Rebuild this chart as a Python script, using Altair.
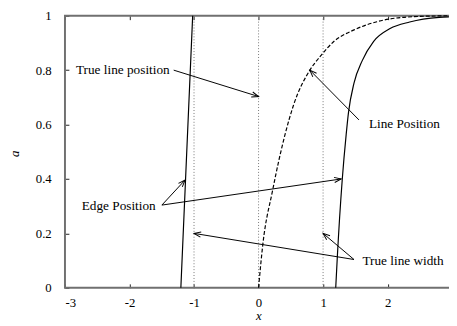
import math
import altair as alt
import pandas as pd

# ---- data ----
left_x = [-1.204, -1.131, -1.021]
left_y = [0.0, 0.4, 1.0]

dash_x = [0.0, 0.065, 0.217, 0.411, 0.54, 0.795, 0.947, 1.175, 1.48, 1.835, 2.29, 2.95]
dash_y = [0.0, 0.157, 0.357, 0.564, 0.67, 0.80, 0.848, 0.907, 0.948, 0.978, 0.995, 1.0]

right_x = [1.196, 1.221, 1.297, 1.358, 1.394, 1.479, 1.607, 1.784, 2.038, 2.342, 2.80, 2.95]
right_y = [0.0, 0.115, 0.398, 0.564, 0.645, 0.752, 0.835, 0.906, 0.953, 0.977, 0.994, 0.996]

true_pos = [-1.0, 0.0, 1.0]

label_text = ["True line position", "Line Position", "Edge Position", "True line width"]
label_x = [-2.83, 1.71, -2.74, 1.61]
label_y = [0.80, 0.60, 0.30, 0.10]

arrow_x0 = [-1.315, 1.556, -1.498, -1.498, 1.479, 1.479]
arrow_y0 = [0.800, 0.617, 0.304, 0.304, 0.104, 0.104]
arrow_x1 = [0.0, 0.795, -1.139, 1.28, 1.0, -1.0]
arrow_y1 = [0.703, 0.80, 0.396, 0.40, 0.20, 0.20]

x_ticks = [-3, -2, -1, 0, 1, 2]
y_ticks = [0, 0.2, 0.4, 0.6, 0.8, 1]
frame_x = [-3, 3]
frame_y = [0, 1]

# ---- layout ----
W, H = 391, 277
PX = 65.7
XMAX = -3 + W / PX
PY = H
FONT = "Liberation Serif, Times New Roman, serif"

X = alt.Scale(domain=[-3, XMAX], nice=False, zero=False)
Y = alt.Scale(domain=[0, 1], nice=False, zero=False)

def ang(x0, y0, x1, y1):
    dx = (x1 - x0) * PX
    dys = -(y1 - y0) * PY
    return math.degrees(math.atan2(dx, -dys)) % 360

curves_left = pd.DataFrame({"x": left_x, "y": left_y})
curves_dash = pd.DataFrame({"x": dash_x, "y": dash_y})
curves_right = pd.DataFrame({"x": right_x, "y": right_y})
dotted = pd.DataFrame({"x": true_pos, "y0": [0] * 3, "y1": [1] * 3})
labels = pd.DataFrame({"t": label_text, "x": label_x, "y": label_y})
arrows = pd.DataFrame({"x0": arrow_x0, "y0": arrow_y0, "x1": arrow_x1, "y1": arrow_y1})
arrows["a"] = [ang(a, b, c, d) for a, b, c, d in zip(arrow_x0, arrow_y0, arrow_x1, arrow_y1)]
frame = pd.DataFrame({"x0": [frame_x[0]], "x1": [frame_x[1]], "y0": [frame_y[0]], "y1": [frame_y[1]]})

tick_col = "#222222"

x_axis = alt.Axis(values=x_ticks, labelExpr="toString(datum.value)", orient="bottom",
                  offset=-4, tickSize=4, domain=False, grid=False, tickColor=tick_col,
                  labelFont=FONT, labelFontSize=13, labelColor="black", labelPadding=9,
                  title="x", titleFont=FONT, titleFontSize=13, titleFontStyle="italic",
                  titleFontWeight="normal", titleX=197, titleY=36, titleAlign="center",
                  titleBaseline="alphabetic", titleColor="black")
y_axis = alt.Axis(values=y_ticks, labelExpr="toString(datum.value)", orient="left",
                  offset=-4, tickSize=4, domain=False, grid=False, tickColor=tick_col,
                  labelFont=FONT, labelFontSize=13, labelColor="black", labelPadding=14,
                  title="a", titleFont=FONT, titleFontSize=13, titleFontStyle="italic",
                  titleFontWeight="normal", titleX=-55, titleY=140, titleAngle=270,
                  titleAlign="center", titleBaseline="middle", titleColor="black")
x_top = alt.Axis(values=x_ticks, orient="top", offset=-4, tickSize=4, domain=False,
                 grid=False, labels=False, title=None, tickColor=tick_col)

YE = lambda f: alt.Y(f, scale=Y, axis=y_axis)

border = alt.Chart(frame).mark_rect(fill=None, stroke="#707070", strokeWidth=2).encode(
    x=alt.X("x0:Q", scale=X, axis=None), x2="x1:Q",
    y=YE("y0:Q"), y2="y1:Q")

dots = alt.Chart(dotted).mark_rule(color="#777777", strokeDash=[1, 2], strokeWidth=1).encode(
    x=alt.X("x:Q", scale=X, axis=x_top),
    y=YE("y0:Q"), y2="y1:Q")

l1 = alt.Chart(curves_left).mark_line(color="black", strokeWidth=1.2).encode(
    x=alt.X("x:Q", scale=X, axis=x_axis), y=YE("y:Q"))
l2 = alt.Chart(curves_dash).mark_line(color="black", strokeWidth=1.2, strokeDash=[4, 2],
                                      interpolate="monotone").encode(
    x=alt.X("x:Q", scale=X, axis=None), y=YE("y:Q"))
l3 = alt.Chart(curves_right).mark_line(color="black", strokeWidth=1.2,
                                       interpolate="monotone").encode(
    x=alt.X("x:Q", scale=X, axis=None), y=YE("y:Q"))

shafts = alt.Chart(arrows).mark_rule(color="black", strokeWidth=1).encode(
    x=alt.X("x0:Q", scale=X, axis=None), x2="x1:Q",
    y=YE("y0:Q"), y2="y1:Q")
heads = alt.Chart(arrows).mark_point(shape="M -0.38 1 L 0 0 L 0.38 1", filled=False,
                                     stroke="black", strokeWidth=1, size=196, opacity=1).encode(
    x=alt.X("x1:Q", scale=X, axis=None), y=YE("y1:Q"),
    angle=alt.Angle("a:Q", scale=None))

texts = alt.Chart(labels).mark_text(font=FONT, fontSize=13.5, align="left", baseline="middle",
                                    color="black").encode(
    x=alt.X("x:Q", scale=X, axis=None), y=YE("y:Q"), text="t:N")

chart = alt.layer(border, dots, l1, l2, l3, shafts, heads, texts).resolve_axis(
    x="independent"
).properties(
    width=W, height=H,
    autosize=alt.AutoSizeParams(type="none"),
    padding={"left": 58, "top": 5, "right": 0, "bottom": 35},
    background="white",
).configure_view(stroke=None)

chart.save("out.html", embed_options={"renderer": "svg", "actions": False})
